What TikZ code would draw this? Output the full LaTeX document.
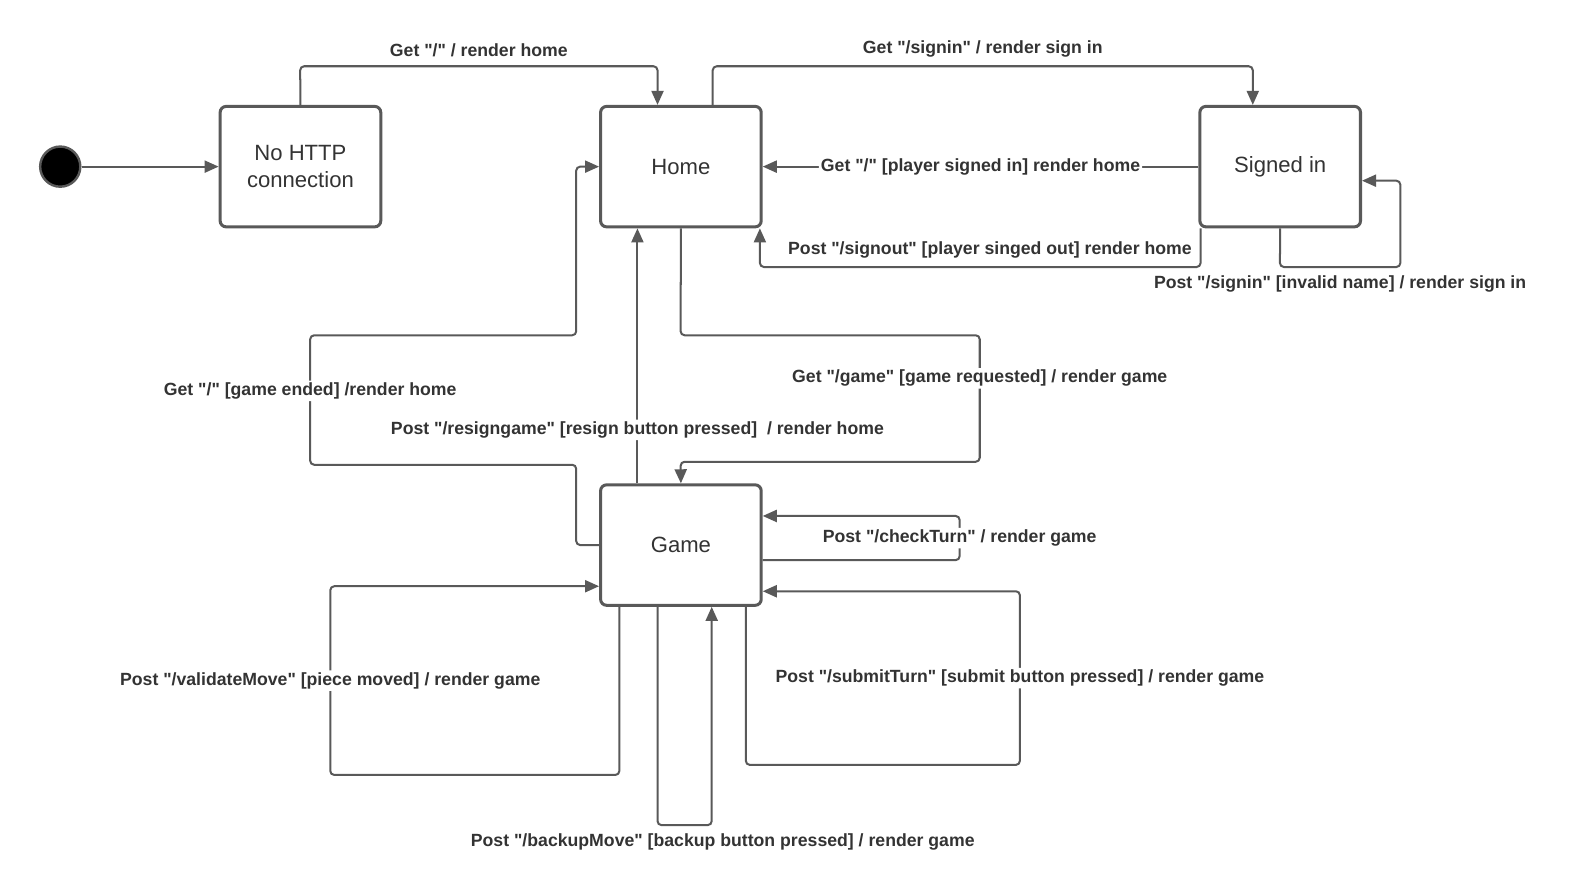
\documentclass[tikz,border=0pt]{standalone}
\usepackage{fontspec}
\setmainfont{Liberation Sans}[Ligatures=TeXOff]
\usepackage{xcolor}
\usepackage{tikz}
\usetikzlibrary{
    arrows.meta,
    positioning
}
\definecolor{linegray}{HTML}{595959}
\definecolor{textgray}{HTML}{333333}
\tikzset{
    state/.style={
        rectangle,
        rounded corners=3pt,
        draw=linegray,
        line width=1.5pt,
        align=center,
        minimum height=60pt,
        minimum width=80pt,
        text=textgray,
        font=\fontsize{11}{13.5}\selectfont
    },
    startdot/.style={
        circle,
        fill=black,
        draw=linegray,
        line width=1.2pt,
        minimum size=20pt,
        inner sep=0pt
    },
    arrow/.style={
        -{Triangle[length=7pt,width=6pt]},
        draw=linegray,
        line width=1pt,
        rounded corners=2pt
    },
    lbl/.style={
        font=\fontsize{8.8}{10.5}\selectfont\bfseries,
        text=textgray,
        inner sep=1pt
    },
    onlbl/.style={
        lbl,
        fill=white
    }
}

\begin{document}
\begin{tikzpicture}[x=0.5pt, y=-0.5pt]
\useasboundingbox (0,0) rectangle (1568,887);

\node[startdot] (start) at (60,166) {};
\node[state, right=68.3pt of start] (nohttp) {No HTTP\\connection};
\node[state, right=108pt of nohttp] (home) {Home};
\node[state, right=217pt of home] (signed) {Signed in};
\node[state, below=127pt of home] (game) {Game};

\draw[arrow] (start) -- (nohttp);
\draw[arrow] (nohttp.north) -- (299,66) -- node[lbl, above=3pt] {Get "/" / render home} (655,66) -- (home.north -| 655,0);
\draw[arrow] (home.north -| 710,0) -- (710,66) -- node[lbl, above=3pt] {Get "/signin" / render sign in} (1248,66) -- (signed.north -| 1248,0);
\draw[arrow] (signed.west) -- node[onlbl] {Get "/" [player signed in] render home} (home.east);
\draw[arrow] (signed.south -| 1196,0) -- (1196,266) -- node[lbl, above=3pt, pos=0.478] {Post "/signout" [player singed out] render home} (757,266) -- (home.south -| 757,0);
\draw[arrow] (signed.south) -- (1275,266) -- node[lbl, below=3pt] {Post "/signin" [invalid name] / render sign in} (1395,266) -- (1395,180) -- (signed.east |- 0,180);

\draw[arrow] (home.south) -- (678,334) -- (976,334) -- node[onlbl, pos=0.34] {Get "/game" [game requested] / render game} (976,460) -- (678,460) -- (game.north);
\draw[arrow] (game.west) -- (574,543) -- (574,463) -- (309,463) -- node[onlbl, pos=0.57] {Get "/" [game ended] /render home} (309,334) -- (574,334) -- (574,166) -- (home.west);
\draw[arrow] (game.north -| 635,0) -- node[onlbl, pos=0.21] {Post "/resigngame" [resign button pressed]\ \ / render home} (home.south -| 635,0);

\draw[arrow] (game.east |- 0,558) -- (956,558) -- node[onlbl] {Post "/checkTurn" / render game} (956,514) -- (game.east |- 0,514);
\draw[arrow] (game.south -| 617,0) -- (617,772) -- (329,772) -- node[onlbl] {Post "/validateMove" [piece moved] / render game} (329,584) -- (game.west |- 0,584);
\draw[arrow] (game.south -| 655,0) -- (655,822) -- node[lbl, below=3pt, xshift=19pt] {Post "/backupMove" [backup button pressed] / render game} (709,822) -- (game.south -| 709,0);
\draw[arrow] (game.south -| 743,0) -- (743,762) -- (1016,762) -- node[onlbl] {Post "/submitTurn" [submit button pressed] / render game} (1016,589) -- (game.east |- 0,589);

\end{tikzpicture}
\end{document}
